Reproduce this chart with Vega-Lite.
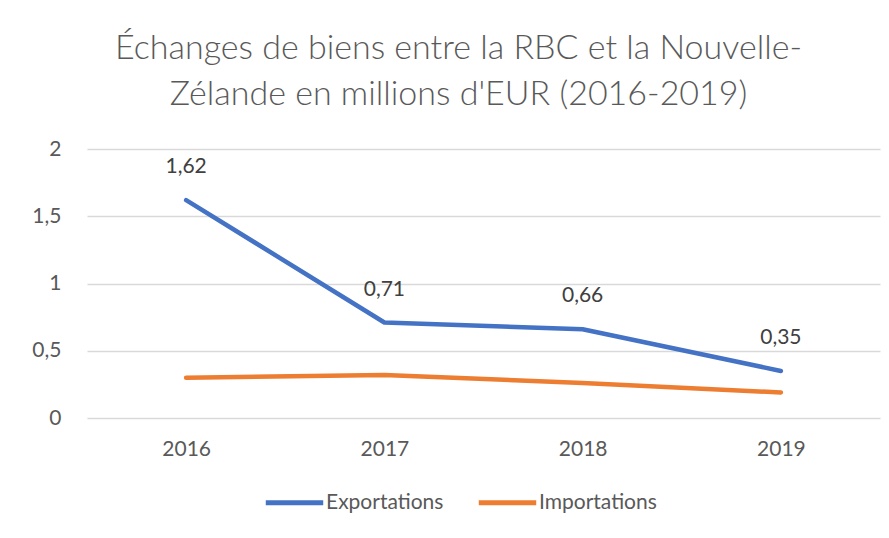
{
  "$schema": "https://vega.github.io/schema/vega-lite/v6.json",
  "autosize": "none",
  "width": 793,
  "height": 269,
  "padding": {"left": 87, "top": 149, "right": 9, "bottom": 120},
  "background": "white",
  "config": {
    "view": {"stroke": null},
    "locale": {"number": {"decimal": ",", "thousands": " ", "grouping": [3], "currency": ["", " €"]}}
  },
  "title": {
    "text": ["Échanges de biens entre la RBC et la Nouvelle-", "Zélande en millions d'EUR (2016-2019)"],
    "font": "Lato",
    "fontWeight": 300,
    "fontSize": 34,
    "color": "#595959",
    "lineHeight": 46,
    "anchor": "middle",
    "offset": 26,
    "dx": -25
  },
  "data": {
    "values": [
      {"year": "2016", "series": "Exportations", "value": 1.62},
      {"year": "2017", "series": "Exportations", "value": 0.71},
      {"year": "2018", "series": "Exportations", "value": 0.66},
      {"year": "2019", "series": "Exportations", "value": 0.35},
      {"year": "2016", "series": "Importations", "value": 0.30},
      {"year": "2017", "series": "Importations", "value": 0.32},
      {"year": "2018", "series": "Importations", "value": 0.26},
      {"year": "2019", "series": "Importations", "value": 0.19}
    ]
  },
  "encoding": {
    "x": {
      "field": "year", "type": "ordinal", "title": null,
      "scale": {"paddingInner": 0, "paddingOuter": 0, "align": 0.5},
      "axis": {"labelAngle": 0, "domain": false, "ticks": false, "labelPadding": 20, "labelFont": "Lato", "labelFontSize": 21, "labelColor": "#595959", "grid": false}
    },
    "y": {
      "field": "value", "type": "quantitative", "title": null,
      "scale": {"domain": [0, 2], "nice": false},
      "axis": {"values": [0, 0.5, 1, 1.5, 2], "format": "~g", "domain": false, "ticks": false, "labelPadding": 26, "labelFont": "Lato", "labelFontSize": 21, "labelColor": "#595959", "grid": true, "gridColor": "#d9d9d9", "gridWidth": 1.5}
    }
  },
  "layer": [
    {
      "mark": {"type": "line", "strokeWidth": 4.5, "strokeCap": "round", "strokeJoin": "round"},
      "encoding": {
        "color": {
          "field": "series", "type": "nominal", "title": null,
          "scale": {"domain": ["Exportations", "Importations"], "range": ["#4472C4", "#ED7D31"]},
          "legend": {"orient": "none", "legendX": 176, "legendY": 322, "direction": "horizontal", "symbolType": "stroke", "symbolSize": 3300, "symbolStrokeWidth": 5, "labelFont": "Lato", "labelFontSize": 21, "labelColor": "#595959", "labelOffset": 0, "columnPadding": 24}
        }
      }
    },
    {
      "transform": [{"filter": "datum.series === 'Exportations'"}],
      "mark": {"type": "text", "dy": -33, "font": "Lato", "fontSize": 21, "color": "#404040"},
      "encoding": {
        "text": {"field": "value", "type": "quantitative", "format": ".2f"}
      }
    }
  ]
}
